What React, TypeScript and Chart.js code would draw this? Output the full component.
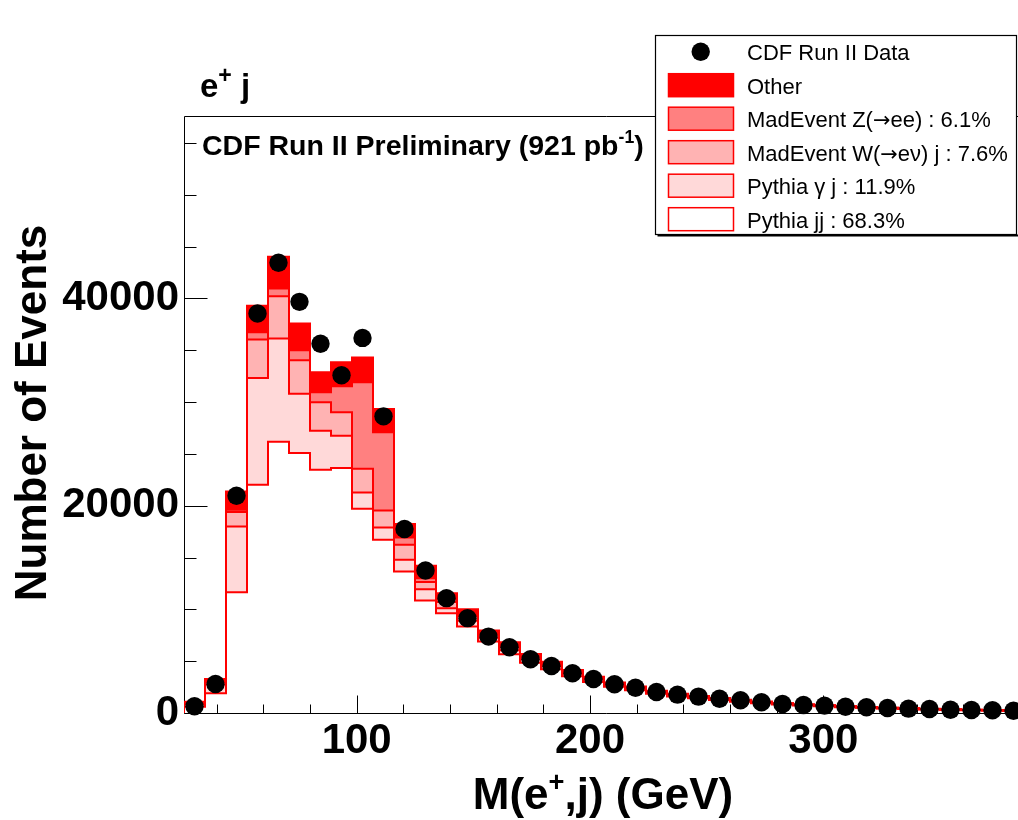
import React, { useEffect, useRef } from 'react';
import { Chart, registerables } from 'chart.js';

Chart.register(...registerables);

// ---------------- data ----------------
const BIN_LOW = 26; // GeV, lower edge of first bin
const BIN_WIDTH = 9; // GeV
const X_MIN = 26;
const X_MAX = 386;
const Y_MAX = 57600;

const pythiaJJ = [600, 1900, 11660, 22030, 26180, 25090, 23470, 23640, 19700, 16710, 13650, 10850, 9630, 8340, 6890, 5670, 4850, 4230, 3550, 3000, 2530, 2190, 1850, 1590, 1420, 1250, 1095, 950, 820, 715, 640, 560, 500, 440, 388, 345, 302, 267, 242, 216];
const pythiaGammaJ = [250, 850, 6340, 10300, 9950, 5700, 3770, 3120, 1580, 1190, 1130, 1100, 480, 560, 360, 380, 330, 280, 240, 200, 170, 150, 120, 110, 95, 80, 70, 60, 55, 50, 45, 40, 35, 30, 27, 24, 21, 19, 17, 15];
const madEventW = [90, 250, 1400, 3700, 4090, 3240, 2740, 2250, 2290, 1640, 1450, 700, 590, 450, 300, 300, 230, 200, 170, 140, 120, 100, 90, 75, 65, 60, 50, 45, 40, 35, 30, 27, 25, 22, 20, 18, 16, 14, 12, 11];
const madEventZ = [50, 80, 210, 710, 740, 970, 960, 2510, 8340, 7540, 700, 360, 250, 200, 150, 150, 110, 90, 70, 60, 50, 40, 30, 25, 25, 20, 20, 15, 10, 10, 8, 8, 7, 6, 5, 4, 3, 3, 2, 2];
const otherBkg = [100, 200, 1770, 2560, 3060, 2580, 1930, 2320, 2380, 2260, 1300, 1190, 610, 450, 250, 330, 180, 150, 120, 100, 80, 70, 60, 50, 45, 40, 35, 30, 25, 20, 17, 15, 13, 12, 10, 9, 8, 7, 7, 6];
const cdfData = [650, 2800, 20960, 38540, 43440, 39670, 35620, 32580, 36190, 28620, 17750, 13750, 11080, 9150, 7370, 6340, 5190, 4540, 3830, 3280, 2770, 2440, 2030, 1770, 1580, 1380, 1230, 1030, 870, 770, 710, 610, 550, 480, 420, 390, 320, 290, 260, 220];

const xMajorTicks = [100, 200, 300];
const xMinorTicks = [40, 60, 80, 120, 140, 160, 180, 220, 240, 260, 280, 320, 340, 360, 380];
const yMajorTicks = [0, 20000, 40000];
const yMinorTicks = [5000, 10000, 15000, 25000, 30000, 35000, 45000, 50000, 55000];

const legendLabels = [
  'CDF Run II Data',
  'Other',
  'MadEvent Z(\u2192ee) : 6.1%',
  'MadEvent W(\u2192e\u03bd) j : 7.6%',
  'Pythia \u03b3 j : 11.9%',
  'Pythia jj : 68.3%',
];

// ---------------- styles ----------------
const FONT = "'Liberation Sans', Arial, Helvetica, sans-serif";
const ARROW_FONT = "'DejaVu Sans', 'Liberation Sans', sans-serif";
const RED = '#ff0000';
const LAYER_FILLS = ['#ffffff', '#ffd9d9', '#ffb3b3', '#ff8080', '#ff0000'];

type Part = { t: string; sup?: boolean };

function drawRich(ctx: CanvasRenderingContext2D, parts: Part[], x: number, y: number, size: number, weight: string, align: 'left' | 'center', supScale = 0.62) {
  const supSize = size * supScale;
  const widths = parts.map((p) => {
    ctx.font = `${weight} ${p.sup ? supSize : size}px ${FONT}`;
    return ctx.measureText(p.t).width;
  });
  const total = widths.reduce((a, b) => a + b, 0);
  let cx = align === 'center' ? x - total / 2 : x;
  ctx.textAlign = 'left';
  ctx.textBaseline = 'alphabetic';
  parts.forEach((p, i) => {
    ctx.font = `${weight} ${p.sup ? supSize : size}px ${FONT}`;
    ctx.fillText(p.t, cx, p.sup ? y - size * 0.42 : y);
    cx += widths[i];
  });
}

function drawLegendText(ctx: CanvasRenderingContext2D, label: string, x: number, y: number, size: number) {
  const pieces = label.split('\u2192');
  let cx = x;
  ctx.textAlign = 'left';
  ctx.textBaseline = 'alphabetic';
  pieces.forEach((piece, i) => {
    if (i > 0) {
      ctx.font = `${size * 0.95}px ${ARROW_FONT}`;
      ctx.fillText('\u2192', cx, y);
      cx += ctx.measureText('\u2192').width;
    }
    ctx.font = `${size}px ${FONT}`;
    ctx.fillText(piece, cx, y);
    cx += ctx.measureText(piece).width;
  });
}

const rootDecor = {
  id: 'rootDecor',
  beforeDatasetsDraw(chart: any) {
    const { ctx, chartArea: ca, scales } = chart;
    const xs = scales.x;
    const ys = scales.y;
    const L = Math.round(ca.left) + 0.5;
    const T = Math.round(ca.top) + 0.5;
    const B = Math.round(ca.bottom) + 0.5;
    ctx.save();
    ctx.strokeStyle = '#000';
    ctx.lineWidth = 1;
    ctx.beginPath();
    ctx.moveTo(L, B);
    ctx.lineTo(L, T);
    ctx.lineTo(ca.right + 5, T);
    ctx.moveTo(L, B);
    ctx.lineTo(ca.right + 5, B);
    xMajorTicks.forEach((v) => {
      const px = Math.round(xs.getPixelForValue(v)) + 0.5;
      ctx.moveTo(px, B);
      ctx.lineTo(px, B - 18);
    });
    xMinorTicks.forEach((v) => {
      const px = Math.round(xs.getPixelForValue(v)) + 0.5;
      ctx.moveTo(px, B);
      ctx.lineTo(px, B - 9);
    });
    yMajorTicks.forEach((v) => {
      const py = Math.round(ys.getPixelForValue(v)) + 0.5;
      ctx.moveTo(L, py);
      ctx.lineTo(L + 23, py);
    });
    yMinorTicks.forEach((v) => {
      const py = Math.round(ys.getPixelForValue(v)) + 0.5;
      ctx.moveTo(L, py);
      ctx.lineTo(L + 12, py);
    });
    ctx.stroke();
    ctx.restore();
  },
  afterDraw(chart: any) {
    const { ctx } = chart;
    ctx.save();
    ctx.fillStyle = '#000';
    drawRich(ctx, [{ t: 'e' }, { t: '+', sup: true }, { t: ' j' }], 200, 97, 33, 'bold', 'left', 0.7);
    drawRich(ctx, [{ t: 'CDF Run II Preliminary (921 pb' }, { t: '-1', sup: true }, { t: ')' }], 202, 155, 28.5, 'bold', 'left');
    drawRich(ctx, [{ t: 'M(e' }, { t: '+', sup: true }, { t: ',j) (GeV)' }], 603, 809, 44, 'bold', 'center');
    ctx.save();
    ctx.translate(46, 413);
    ctx.rotate(-Math.PI / 2);
    ctx.font = `bold 44px ${FONT}`;
    ctx.textAlign = 'center';
    ctx.textBaseline = 'alphabetic';
    ctx.fillText('Number of Events', 0, 0);
    ctx.restore();

    // legend box
    const bx = 655.5, by = 35.5, bw = 361, bh = 199;
    ctx.fillStyle = '#000';
    ctx.fillRect(bx + 2, by + bh, bw, 2);
    ctx.fillStyle = '#fff';
    ctx.fillRect(bx, by, bw, bh);
    ctx.strokeStyle = '#000';
    ctx.lineWidth = 1.2;
    ctx.strokeRect(bx, by, bw, bh);

    const rowY0 = 51.7;
    const rowH = 33.5;
    legendLabels.forEach((label, k) => {
      const yc = rowY0 + rowH * k;
      if (k === 0) {
        ctx.fillStyle = '#000';
        ctx.beginPath();
        ctx.arc(700.7, yc, 9.2, 0, Math.PI * 2);
        ctx.fill();
      } else {
        const fill = LAYER_FILLS[5 - k];
        ctx.fillStyle = fill;
        ctx.fillRect(668.5, yc - 11.5, 65, 23);
        ctx.strokeStyle = RED;
        ctx.lineWidth = 1.5;
        ctx.strokeRect(668.5, yc - 11.5, 65, 23);
      }
      ctx.fillStyle = '#000';
      drawLegendText(ctx, label, 747, yc + 8.5, 22);
    });
    ctx.restore();
  },
};

function stepPoints(vals: number[]) {
  const pts = [{ x: BIN_LOW, y: 0 }];
  vals.forEach((v, i) => pts.push({ x: BIN_LOW + i * BIN_WIDTH, y: v }));
  pts.push({ x: BIN_LOW + vals.length * BIN_WIDTH, y: vals[vals.length - 1] });
  return pts;
}

export default function App() {
  const ref = useRef<HTMLCanvasElement>(null);

  useEffect(() => {
    const canvas = ref.current;
    if (!canvas) return;
    const layers = [pythiaJJ, pythiaGammaJ, madEventW, madEventZ, otherBkg];
    const cumulative = layers.map((_, k) =>
      pythiaJJ.map((__, i) => layers.slice(0, k + 1).reduce((s, arr) => s + arr[i], 0))
    );

    const layerDatasets = cumulative.map((vals, k) => ({
      type: 'line' as const,
      label: legendLabels[5 - k],
      data: stepPoints(vals),
      stepped: true,
      borderColor: RED,
      borderWidth: 2,
      backgroundColor: LAYER_FILLS[k],
      fill: k === 0 ? 'origin' : k,
      pointRadius: 0,
      tension: 0,
      borderJoinStyle: 'miter' as const,
    }));

    const pointsDataset = {
      type: 'line' as const,
      label: legendLabels[0],
      data: cdfData.map((v, i) => ({ x: BIN_LOW + (i + 0.5) * BIN_WIDTH, y: v })),
      showLine: false,
      pointRadius: 9.2,
      pointBackgroundColor: '#000',
      pointBorderWidth: 0,
      borderColor: '#000',
      backgroundColor: '#000',
      fill: false,
      clip: false as any,
    };

    const chart = new Chart(canvas, {
      type: 'line',
      data: { datasets: [pointsDataset as any, ...(layerDatasets as any[])] },
      options: {
        responsive: false,
        animation: false,
        events: [],
        layout: { padding: { top: 116, right: 16, bottom: 0, left: 0 } },
        plugins: {
          legend: { display: false },
          tooltip: { enabled: false },
          filler: { drawTime: 'beforeDatasetsDraw', propagate: false },
        },
        scales: {
          x: {
            type: 'linear',
            min: X_MIN,
            max: X_MAX,
            grid: { display: false, drawTicks: false },
            border: { display: false },
            ticks: {
              color: '#000',
              font: { family: FONT, size: 42, weight: 'bold' },
              padding: 3,
              maxRotation: 0,
              autoSkip: false,
              callback: (v: any) => String(v),
            },
            afterBuildTicks: (s: any) => {
              s.ticks = xMajorTicks.map((v) => ({ value: v }));
            },
            afterFit: (s: any) => {
              s.height = 107;
            },
          },
          y: {
            type: 'linear',
            min: 0,
            max: Y_MAX,
            grid: { display: false, drawTicks: false },
            border: { display: false },
            ticks: {
              color: '#000',
              font: { family: FONT, size: 42, weight: 'bold' },
              padding: 5,
              autoSkip: false,
              callback: (v: any) => String(v),
            },
            afterBuildTicks: (s: any) => {
              s.ticks = yMajorTicks.map((v) => ({ value: v }));
            },
            afterFit: (s: any) => {
              s.width = 184;
            },
          },
        },
      } as any,
      plugins: [rootDecor],
    });
    return () => chart.destroy();
  }, []);

  return (
    <div style={{ position: 'fixed', left: 0, top: 0, width: 1018, height: 820, overflow: 'hidden', background: '#fff' }}>
      <canvas ref={ref} width={1040} height={820} style={{ display: 'block' }} />
    </div>
  );
}
